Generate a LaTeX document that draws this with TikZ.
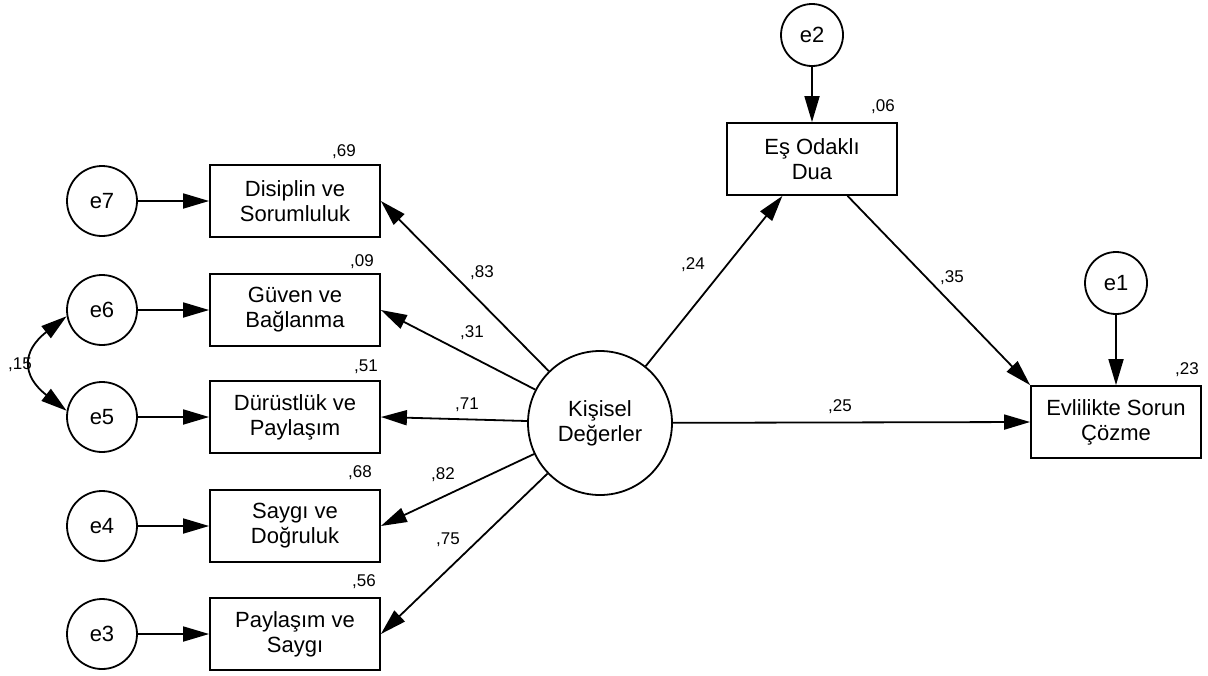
\documentclass[tikz,border=0pt]{standalone}
\usepackage{fontspec}
\setmainfont{Liberation Sans}
\usetikzlibrary{arrows.meta}

\tikzstyle{error}=[circle,draw,line width=0.9pt,minimum size=35pt,inner sep=0pt,font=\fontsize{11}{12.5}\selectfont]
\tikzstyle{small error}=[error,minimum size=31pt]
\tikzstyle{latent}=[circle,draw,line width=0.9pt,minimum size=72pt,inner sep=0pt,align=center,font=\fontsize{11}{12.5}\selectfont]
\tikzstyle{observed}=[rectangle,draw,line width=0.9pt,minimum width=85pt,minimum height=36pt,inner sep=0pt,align=center,font=\fontsize{11}{12.5}\selectfont]
\tikzstyle{edge}=[draw,line width=0.9pt,-{Triangle[length=13pt,width=7.5pt]}]
\tikzstyle{covariance}=[draw,line width=0.9pt,{Triangle[length=13pt,width=7.5pt]}-{Triangle[length=13pt,width=7.5pt]}]
\tikzstyle{weight}=[font=\fontsize{8.5}{10}\selectfont,inner sep=0pt]

\begin{document}
\begin{tikzpicture}[x=0.5pt,y=-0.5pt]
\useasboundingbox (0,0) rectangle (1208,675);
\node[latent] (K) at (600,423) {Kişisel\\Değerler};
\node[observed] (EOD) at (812,159) {Eş Odaklı\\Dua};
\node[observed] (ESC) at (1116,422) {Evlilikte Sorun\\Çözme};
\node[small error] (e2) at (812,35) {e2};
\node[small error] (e1) at (1116,283) {e1};
% indicators with their errors
\foreach \y/\name/\err/\txt in {201/DS/e7/{Disiplin ve\\Sorumluluk}, 310/GB/e6/{Güven ve\\Bağlanma},
                                417/DP/e5/{Dürüstlük ve\\Paylaşım}, 526/SD/e4/{Saygı ve\\Doğruluk},
                                634/PS/e3/{Paylaşım ve\\Saygı}}{
  \node[observed] (\name) at (295,\y) {\txt};
  \node[error] (\err) at (102,\y) {\err};
  \path[edge] (\err) -- (\name);
}
% loadings
\foreach \dest/\weight/\lpos in {{DS/83/(482,273)}, {GB/31/(472,333)}, {DP/71/(467,405)},
                                 {SD/82/(443,475)}, {PS/75/(448,540)}}{
  \path[edge] (K) -- (\dest.east);
  \node[weight] (w\dest) at \lpos {,\weight};
}
% structural paths
\path[edge] (K) -- (EOD);
\path[edge] (EOD) -- (ESC.north west);
\path[edge] (K) -- (ESC.west);
\path[edge] (e2) -- (EOD);
\path[edge] (e1) -- (ESC);
\node[weight] (wEOD) at (693,265) {,24};
\node[weight] (wESC) at (952,278) {,35};
\node[weight] (wK) at (840,407) {,25};
% error covariance
\path[covariance] (e6.190) .. controls +(-45,35) and +(-45,-35) .. (e5.170);
\node[weight] (c56) at (20,365) {,15};
% squared multiple correlations
\foreach \pos/\name/\val in {{(344,152)/DS/69}, {(362,262)/GB/09}, {(366,367)/DP/51},
                             {(360,473)/SD/68}, {(364,582)/PS/56}, {(883,107)/EOD/06},
                             {(1187,370)/ESC/23}}{
  \node[weight] (r2\name) at \pos {,\val};
}
\end{tikzpicture}
\end{document}
